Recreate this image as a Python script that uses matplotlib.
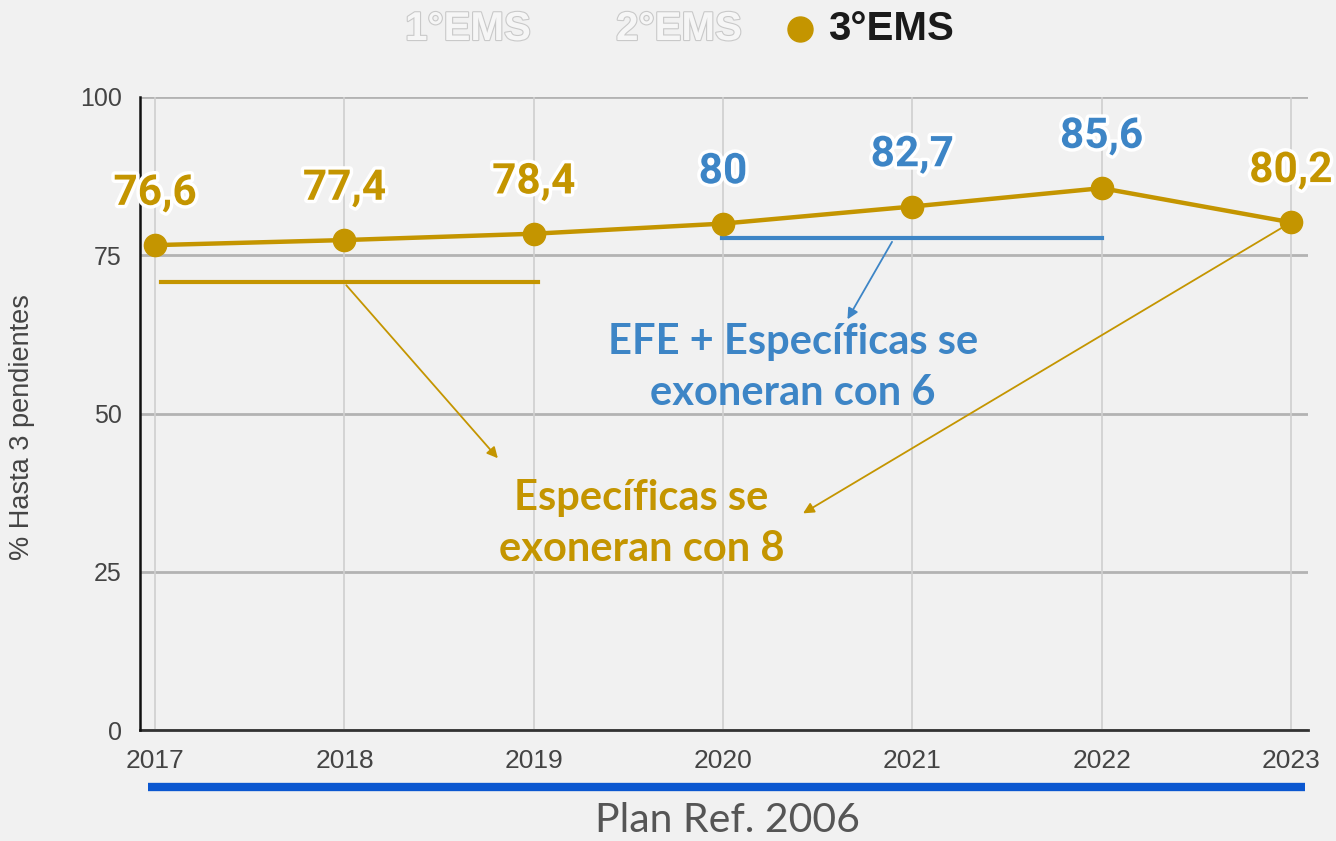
import matplotlib.pyplot as plt
import matplotlib.patheffects as pe
from matplotlib.lines import Line2D

years = [2017, 2018, 2019, 2020, 2021, 2022, 2023]
pct_3ems = [76.6, 77.4, 78.4, 80, 82.7, 85.6, 80.2]
labels = ["76,6", "77,4", "78,4", "80", "82,7", "85,6", "80,2"]
label_colors = ["gold", "gold", "gold", "blue", "blue", "blue", "gold"]
yticks = [0, 25, 50, 75, 100]

GOLD = "#c49500"
BLUE = "#3d85c6"
BG = "#f1f1f1"
colors = {"gold": GOLD, "blue": BLUE}

plt.rcParams['font.family'] = ['Liberation Sans', 'DejaVu Sans']

fig = plt.figure(figsize=(13.36, 8.41), dpi=100, facecolor=BG)
ax = fig.add_axes([140/1336, 1 - 730/841, 1168/1336, 633/841])
ax.set_facecolor(BG)

ax.set_xlim(2016.92, 2023.09)
ax.set_ylim(0, 100)

# grid
for y in yticks:
    ax.axhline(y, color="#b3b3b3", lw=2, zorder=1)
for x in years:
    ax.axvline(x, color="#cfcfcf", lw=1.2, zorder=1)

for s in ["top", "right"]:
    ax.spines[s].set_visible(False)
ax.spines["left"].set_color("#111111")
ax.spines["left"].set_linewidth(1.8)
ax.spines["bottom"].set_color("#333333")
ax.spines["bottom"].set_linewidth(2)
ax.spines["bottom"].set_zorder(2)

ax.set_yticks(yticks)
ax.set_xticks(years)
ax.tick_params(length=0, colors="#444444")
ax.tick_params(axis="y", pad=13, labelsize=18)
ax.tick_params(axis="x", pad=14, labelsize=19)

fig.text(22/1336, 1 - 427/841, "% Hasta 3 pendientes", rotation=90,
         ha="center", va="center", fontsize=19.5, color="#444444")

# main series
ax.plot(years, pct_3ems, color=GOLD, lw=3.2, marker="o", ms=16, zorder=4)

white = [pe.withStroke(linewidth=5, foreground="white")]
for x, y, t, c in zip(years, pct_3ems, labels, label_colors):
    ax.annotate(t, (x, y), xytext=(0, 29), textcoords="offset points",
                ha="center", va="baseline", fontsize=30.5, fontweight="bold",
                family=["Roboto", "DejaVu Sans"], color=colors[c],
                path_effects=white, zorder=6)

# period brackets and notes
ax.plot([2017.03, 2019.02], [70.8, 70.8], color=GOLD, lw=3, zorder=3)
ax.plot([2019.995, 2022.0], [77.7, 77.7], color=BLUE, lw=3, zorder=3)

ax.annotate("", xy=(2018.82, 42.6), xytext=(2018.0, 70.6),
            arrowprops=dict(arrowstyle="-|>", color=GOLD, lw=1.3, mutation_scale=16))
ax.annotate("", xy=(2020.41, 34.0), xytext=(2023.0, 80.2),
            arrowprops=dict(arrowstyle="-|>", color=GOLD, lw=1.3, mutation_scale=16))
ax.annotate("", xy=(2020.65, 64.5), xytext=(2020.9, 77.5),
            arrowprops=dict(arrowstyle="-|>", color=BLUE, lw=1.3, mutation_scale=16))

note_font = ["Lato", "DejaVu Sans"]
ax.text(2019.57, 32.6, "Específicas se\nexoneran con 8", ha="center", va="center",
        fontsize=30, fontweight="bold", family=note_font, color=GOLD,
        linespacing=1.42, zorder=5)
ax.text(2020.37, 57.2, "EFE + Específicas se\nexoneran con 6", ha="center", va="center",
        fontsize=30, fontweight="bold", family=note_font, color=BLUE,
        linespacing=1.42, zorder=5)

# legend across the top
hollow = [pe.withStroke(linewidth=1.6, foreground="#c9c9c9")]
fig.text(468/1336, 1 - 29/841, "1°EMS", ha="center", va="center", fontsize=29,
         fontweight="bold", color="#f6f6f6", path_effects=hollow)
fig.text(679/1336, 1 - 29/841, "2°EMS", ha="center", va="center", fontsize=29,
         fontweight="bold", color="#f6f6f6", path_effects=hollow)
fig.add_artist(Line2D([800/1336], [1 - 29/841], marker="o", ms=18, color=GOLD,
                      transform=fig.transFigure))
fig.text(828/1336, 1 - 29/841, "3°EMS", ha="left", va="center", fontsize=29,
         fontweight="bold", color="#1a1a1a")

# plan bar under the x axis
fig.add_artist(Line2D([148/1336, 1305/1336], [1 - 787/841, 1 - 787/841],
                      color="#0b57d0", lw=6, solid_capstyle="butt",
                      transform=fig.transFigure))
fig.text(727/1336, 1 - 821/841, "Plan Ref. 2006", ha="center", va="center",
         fontsize=29.5, color="#555555", family=["Lato", "DejaVu Sans"])

fig.savefig("out.png", dpi=100, facecolor=BG)
